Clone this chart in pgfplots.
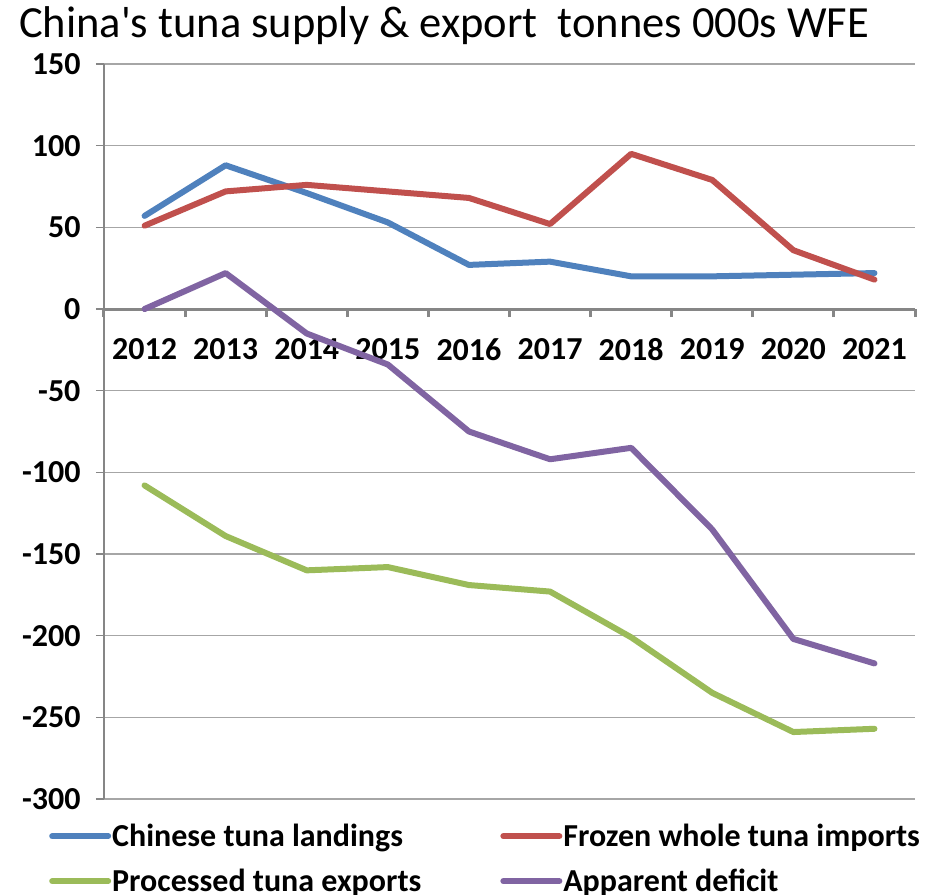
\documentclass[border=0pt]{standalone}
\usepackage{pgfplots}
\pgfplotsset{compat=1.18}
\usepackage{fontspec}
\setmainfont{Carlito}
\definecolor{cblue}{HTML}{4F81BD}
\definecolor{cred}{HTML}{C0504D}
\definecolor{cgreen}{HTML}{9BBB59}
\definecolor{cpurple}{HTML}{8064A2}
\definecolor{axgray}{HTML}{868686}
\definecolor{grgray}{HTML}{A6A6A6}
\begin{document}
\begin{tikzpicture}
\useasboundingbox (0,0) rectangle (930pt,-895pt);
\node[font=\fontsize{44.5}{48}\selectfont, anchor=west, inner sep=0pt] at (19pt,-26pt) {China\textquotesingle s tuna supply \& export\ \ tonnes 000s WFE};
\begin{axis}[
  at={(104pt,-799pt)}, anchor=south west,
  scale only axis, width=811pt, height=735pt,
  xmin=-0.5, xmax=9.5, ymin=-300, ymax=150,
  axis x line=middle, axis y line=left,
  x axis line style={-, draw=axgray, line width=3pt},
  y axis line style={-, draw=axgray, line width=1.2pt},
  xtick={0,...,9},
  xticklabels={2012,2013,2014,2015,2016,2017,2018,2019,2020,2021},
  major x tick style={draw=none},
  minor xtick={-0.5,0.5,...,9.5},
  minor x tick style={draw=axgray, line width=3pt},
  minor tick length=8pt,
  ytick={-300,-250,...,150},
  y tick style={draw=axgray, line width=1.2pt},
  major tick length=8pt,
  tick align=outside,
  hide obscured y ticks=false,
  ymajorgrids,
  grid style={draw=grgray, line width=1.2pt},
  ticklabel style={font=\fontsize{32}{34}\selectfont\bfseries},
  /pgf/number format/assume math mode=true,
  /pgf/number format/1000 sep={},
  xticklabel style={yshift=-18pt},
  yticklabel style={xshift=-12pt},
  legend columns=2,
  legend cell align=left,
  legend style={at={(0,0)}, anchor=north west, xshift=-58pt, yshift=-22pt,
    draw=none, fill=none, font=\fontsize{32}{34}\selectfont\bfseries,
    nodes={inner sep=1pt},
    /tikz/every even column/.append style={column sep=78pt},
    /tikz/row sep=19pt},
  legend image code/.code={\draw[line width=6pt, line cap=round] (0pt,0pt) -- (56pt,0pt);},
  every axis plot/.append style={line width=6pt, line join=round, line cap=round},
]
\addplot[cblue] coordinates {(0,57) (1,88) (2,71) (3,53) (4,27) (5,29) (6,20) (7,20) (8,21) (9,22)};
\addlegendentry{Chinese tuna landings}
\addplot[cred] coordinates {(0,51) (1,72) (2,76) (3,72) (4,68) (5,52) (6,95) (7,79) (8,36) (9,18)};
\addlegendentry{Frozen whole tuna imports}
\addplot[cgreen] coordinates {(0,-108) (1,-139) (2,-160) (3,-158) (4,-169) (5,-173) (6,-201) (7,-235) (8,-259) (9,-257)};
\addlegendentry{Processed tuna exports}
\addplot[cpurple] coordinates {(0,0) (1,22) (2,-15) (3,-34) (4,-75) (5,-92) (6,-85) (7,-135) (8,-202) (9,-217)};
\addlegendentry{Apparent deficit}
\end{axis}
\end{tikzpicture}
\end{document}
